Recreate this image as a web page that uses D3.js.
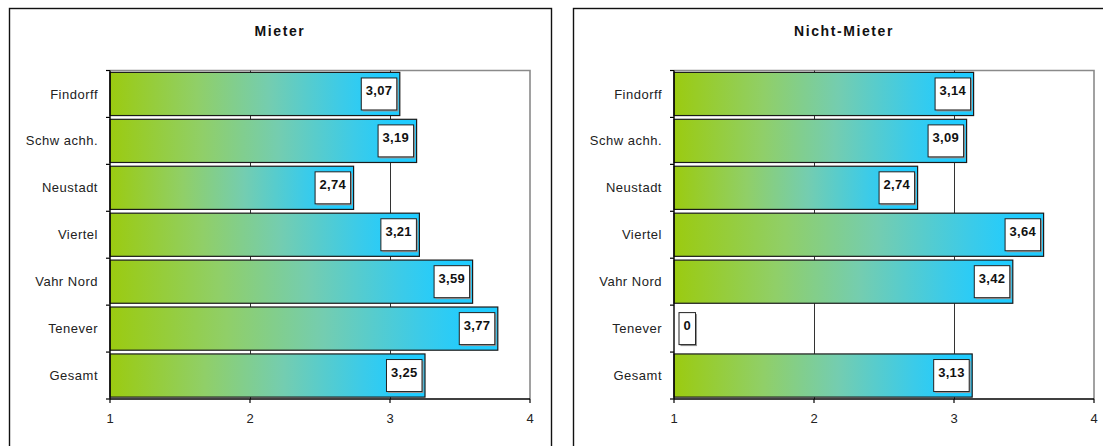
<!DOCTYPE html>
<html><head><meta charset="utf-8">
<script src="https://cdn.jsdelivr.net/npm/d3@7"></script>
<style>
html,body{margin:0;padding:0;background:#fff;}
svg{display:block;font-family:"Liberation Sans",Arial,sans-serif;}
</style></head>
<body><svg id="c" width="1103" height="446"></svg>
<script>
const categories = ["Findorff","Schw achh.","Neustadt","Viertel","Vahr Nord","Tenever","Gesamt"];
const mieterValues = [3.07,3.19,2.74,3.21,3.59,3.77,3.25];
const nichtMieterValues = [3.14,3.09,2.74,3.64,3.42,0,3.13];
const xTicks = [1,2,3,4];
const titles = ["Mieter","Nicht-Mieter"];

const svg = d3.select("#c");
const defs = svg.append("defs");
const grad = defs.append("linearGradient").attr("id","g").attr("x1","0").attr("x2","1").attr("y1","0").attr("y2","0");
[[0,"#9bcb10"],[0.3,"#90cf68"],[0.55,"#74cdb0"],[0.8,"#3ccbe8"],[0.93,"#20ccff"],[1,"#20ccff"]]
  .forEach(([o,c])=>grad.append("stop").attr("offset",o).attr("stop-color",c));

const fmt = v => v===0 ? "0" : d3.format(".2f")(v).replace(".",",");

const panels = [
  {title:titles[0], values:mieterValues, bx:9, bw:542, px0:110, px1:530},
  {title:titles[1], values:nichtMieterValues, bx:573, bw:542, px0:674, px1:1094}
];
const py0 = 70.5, py1 = 399;

panels.forEach(p=>{
  const g = svg.append("g");
  g.append("rect").attr("x",p.bx+0.5).attr("y",8.5).attr("width",p.bw).attr("height",460)
    .attr("fill","#fff").attr("stroke","#111").attr("stroke-width",1.4);
  g.append("text").attr("x",p.bx+p.bw/2).attr("y",36).attr("text-anchor","middle")
    .attr("font-weight","bold").attr("font-size",14).attr("letter-spacing",1.6).attr("fill","#111").text(p.title);

  const x = d3.scaleLinear().domain([1,4]).range([p.px0,p.px1]);
  const y = d3.scaleBand().domain(categories).range([py0,py1]).paddingInner(0.08).paddingOuter(0.04);
  const step = y.step();

  g.append("path").attr("d",`M${p.px0},${py0}H${p.px1}V${py1}`).attr("fill","none")
    .attr("stroke","#8a8a8a").attr("stroke-width",1.6);
  g.selectAll(".grid").data(xTicks.slice(1,-1)).join("line")
    .attr("x1",d=>Math.round(x(d))+0.5).attr("x2",d=>Math.round(x(d))+0.5)
    .attr("y1",py0).attr("y2",py1).attr("stroke","#333").attr("stroke-width",1);

  const data = categories.map((c,i)=>({c, v:p.values[i]}));
  g.selectAll(".bar").data(data.filter(d=>d.v>=1)).join("rect")
    .attr("x",x(1)).attr("y",d=>y(d.c)).attr("width",d=>x(d.v)-x(1)).attr("height",y.bandwidth())
    .attr("fill","url(#g)").attr("stroke","#1a1a1a").attr("stroke-width",1.2);

  const yAxis = g.append("g");
  yAxis.append("line").attr("x1",p.px0).attr("x2",p.px0).attr("y1",py0).attr("y2",py1).attr("stroke","#000").attr("stroke-width",1.4);
  yAxis.selectAll(".yt").data(d3.range(categories.length+1)).join("line")
    .attr("x1",p.px0-4).attr("x2",p.px0).attr("y1",i=>py0+i*step).attr("y2",i=>py0+i*step)
    .attr("stroke","#000").attr("stroke-width",1.2);
  yAxis.selectAll(".yl").data(categories).join("text")
    .attr("x",p.px0-12).attr("y",d=>y(d)+y.bandwidth()/2).attr("dy","0.35em")
    .attr("text-anchor","end").attr("font-size",13).attr("letter-spacing",0.5).attr("fill","#222").text(d=>d);

  const xAxis = g.append("g");
  xAxis.append("line").attr("x1",p.px0).attr("x2",p.px1).attr("y1",py1).attr("y2",py1).attr("stroke","#000").attr("stroke-width",1.4);
  xAxis.selectAll(".xt").data(xTicks).join("line")
    .attr("x1",d=>x(d)).attr("x2",d=>x(d)).attr("y1",py1).attr("y2",py1+4).attr("stroke","#000").attr("stroke-width",1.2);
  xAxis.selectAll(".xl").data(xTicks).join("text")
    .attr("x",d=>x(d)).attr("y",423).attr("text-anchor","middle").attr("font-size",13).attr("fill","#222").text(d=>d);

  data.forEach(d=>{
    const lg = g.append("g");
    const shadow = lg.append("rect").attr("fill","#9a9a9a");
    const box = lg.append("rect").attr("fill","#fff").attr("stroke","#222").attr("stroke-width",1);
    const t = lg.append("text").attr("font-weight","bold").attr("font-size",13).attr("letter-spacing",0.3)
      .attr("fill","#111").attr("text-anchor","middle").text(fmt(d.v));
    const tw = t.node().getComputedTextLength();
    const w = tw + 9, h = 32;
    const bx = d.v>=1 ? x(d.v) - 3 - w : x(1) + 5;
    const cy = y(d.c) + y.bandwidth()/2;
    shadow.attr("x",bx+1.5).attr("y",cy-h/2+1.5).attr("width",w).attr("height",h);
    box.attr("x",bx).attr("y",cy-h/2).attr("width",w).attr("height",h);
    t.attr("x",bx+w/2).attr("y",cy+1.5);
  });
});
</script></body></html>
